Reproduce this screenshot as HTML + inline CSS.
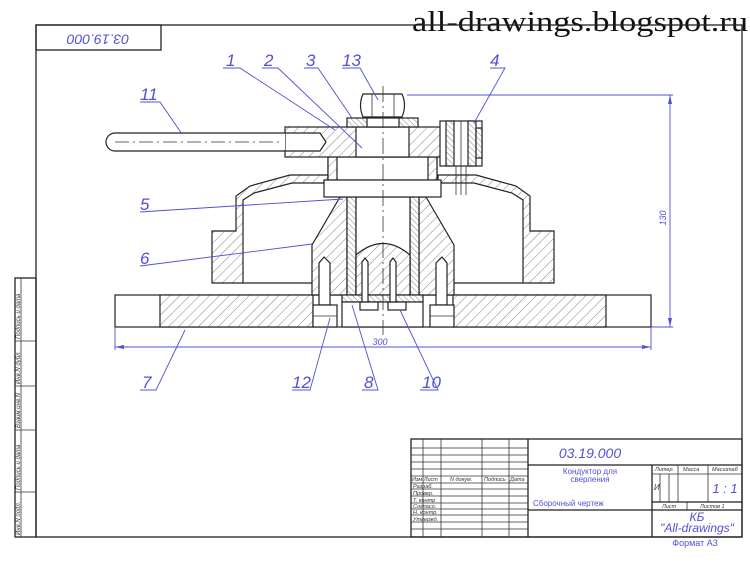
<!DOCTYPE html>
<html><head><meta charset="utf-8"><style>
html,body{margin:0;padding:0;background:#fff;width:750px;height:562px;overflow:hidden}
svg{display:block}
.b{fill:none;stroke:#222;stroke-width:1.3}
.t{fill:none;stroke:#333;stroke-width:.8}
.h{fill:url(#hp);stroke:#222;stroke-width:1.2}
.h2{fill:url(#hp2);stroke:#222;stroke-width:1.2}
.w{fill:#fff;stroke:#222;stroke-width:1.2}
.bl{stroke:#5050d8;stroke-width:.9;fill:none}
.lb{font-family:"Liberation Sans",sans-serif;font-style:italic;fill:#5050d8}
.sm{font-family:"Liberation Sans",sans-serif;font-style:italic;fill:#333}
</style></head><body>
<svg width="750" height="562" viewBox="0 0 750 562">
<defs>
<pattern id="hp" width="7" height="7" patternUnits="userSpaceOnUse" patternTransform="rotate(45)"><rect width="7" height="7" fill="#fff"/><line x1="0" y1="0" x2="0" y2="7" stroke="#666" stroke-width=".8"/></pattern>
<pattern id="hp2" width="4" height="4" patternUnits="userSpaceOnUse" patternTransform="rotate(-45)"><rect width="4" height="4" fill="#fff"/><line x1="0" y1="0" x2="0" y2="4" stroke="#666" stroke-width=".8"/></pattern>
</defs>
<text x="412" y="31" font-family="Liberation Serif,serif" font-size="29" fill="#111" textLength="336" lengthAdjust="spacingAndGlyphs">all-drawings.blogspot.ru</text>
<!-- frame -->
<rect x="36" y="25" width="706" height="512" class="b"/>
<rect x="36" y="25" width="125" height="25" class="b"/>
<text x="98" y="38" transform="rotate(180 98 38)" text-anchor="middle" dominant-baseline="middle" class="lb" style="font-size:14px">03.19.000</text>
<!-- left strip -->
<rect x="15" y="278" width="21" height="259" class="b"/>
<line x1="21" y1="278" x2="21" y2="537" class="t"/>
<g class="t"><line x1="15" y1="341" x2="36" y2="341"/><line x1="15" y1="386" x2="36" y2="386"/><line x1="15" y1="430" x2="36" y2="430"/><line x1="15" y1="492" x2="36" y2="492"/></g>
<g class="sm" style="font-size:6px">
<text transform="translate(20,339) rotate(-90)">Подпись и дата</text>
<text transform="translate(20,384) rotate(-90)">Инв.N дубл.</text>
<text transform="translate(20,428) rotate(-90)">Взаим.инв.N</text>
<text transform="translate(20,490) rotate(-90)">Подпись и дата</text>
<text transform="translate(20,535) rotate(-90)">Инв.N подл.</text>
</g>
<!-- title block -->
<g class="b"><rect x="411" y="439" width="331" height="98"/>
<line x1="528" y1="439" x2="528" y2="537"/><line x1="652" y1="465" x2="652" y2="537"/>
<line x1="528" y1="465" x2="742" y2="465"/><line x1="528" y1="510" x2="742" y2="510"/>
<line x1="652" y1="502" x2="742" y2="502"/></g>
<g class="t">
<line x1="423" y1="439" x2="423" y2="537"/><line x1="441" y1="439" x2="441" y2="537"/><line x1="482" y1="439" x2="482" y2="537"/><line x1="509" y1="439" x2="509" y2="537"/>
<line x1="411" y1="448" x2="528" y2="448"/><line x1="411" y1="455" x2="528" y2="455"/><line x1="411" y1="462" x2="528" y2="462"/><line x1="411" y1="469" x2="528" y2="469"/><line x1="411" y1="476" x2="528" y2="476"/><line x1="411" y1="483" x2="528" y2="483"/><line x1="411" y1="489" x2="528" y2="489"/><line x1="411" y1="496" x2="528" y2="496"/><line x1="411" y1="503" x2="528" y2="503"/><line x1="411" y1="509" x2="528" y2="509"/><line x1="411" y1="515" x2="528" y2="515"/><line x1="411" y1="522" x2="528" y2="522"/><line x1="411" y1="529" x2="528" y2="529"/>
<line x1="652" y1="474" x2="742" y2="474"/><line x1="678" y1="465" x2="678" y2="502"/><line x1="708" y1="465" x2="708" y2="502"/><line x1="660" y1="474" x2="660" y2="502"/><line x1="669" y1="474" x2="669" y2="502"/><line x1="687" y1="502" x2="687" y2="510"/>
</g>
<g class="sm" style="font-size:5.5px"><text x="412" y="481">Изм Лист</text><text x="450" y="481">N докум.</text><text x="484" y="481">Подпись</text><text x="510" y="481">Дата</text>
<text x="413" y="488">Разраб.</text><text x="413" y="495">Провер.</text><text x="413" y="502">Т. контр</text><text x="413" y="508">Согласо.</text><text x="413" y="514">Н. контр.</text><text x="413" y="521">Утвержд.</text>
<text x="655" y="471">Литер.</text><text x="683" y="471">Масса</text><text x="712" y="471">Масштаб</text><text x="662" y="508">Лист</text><text x="700" y="508">Листов 1</text><text x="654" y="490" style="font-size:8px">И</text></g>
<text x="590" y="458" text-anchor="middle" class="lb" style="font-size:14px">03.19.000</text>
<text x="590" y="474" text-anchor="middle" class="lb" style="font-size:8px;font-style:normal">Кондуктор для</text>
<text x="590" y="482" text-anchor="middle" class="lb" style="font-size:8px;font-style:normal">сверления</text>
<text x="533" y="506" class="lb" style="font-size:8px;font-style:normal">Сборочный чертеж</text>
<text x="725" y="493" text-anchor="middle" class="lb" style="font-size:13px">1 : 1</text>
<text x="697" y="521" text-anchor="middle" class="lb" style="font-size:12px">КБ</text>
<text x="697" y="532" text-anchor="middle" class="lb" style="font-size:12px">"All-drawings"</text>
<text x="695" y="546" text-anchor="middle" class="lb" style="font-size:9px;font-style:normal">Формат А3</text>
<!-- base plate -->
<rect x="115" y="295" width="536" height="32" class="w"/>
<rect x="160" y="295" width="153" height="32" class="h"/>
<rect x="453" y="295" width="153" height="32" class="h"/>
<!-- cover -->
<path d="M212,283 V231 H236 V196 L250,186 L290,175 H328 V183 H292 L254,193 L243,200 V283 Z" class="h"/>
<path d="M554,283 V231 H530 V196 L516,186 L476,175 H438 V183 H474 L512,193 L523,200 V283 Z" class="h"/>
<line x1="243" y1="283" x2="523" y2="283" class="b"/>
<!-- cone 6 -->
<path d="M340,197 L312,245 V295 H347 V197 Z" class="h"/>
<path d="M426,197 L454,245 V295 H419 V197 Z" class="h"/>
<rect x="347" y="197" width="9" height="98" class="h2"/>
<rect x="410" y="197" width="9" height="98" class="h2"/>
<rect x="356" y="197" width="54" height="98" class="w"/>
<path d="M356,255 Q383,232 410,255 V295 H356 Z" class="h"/>
<!-- spacer + flange -->
<rect x="328" y="157" width="109" height="23" class="w"/>
<rect x="328" y="157" width="9" height="23" class="h"/>
<rect x="428" y="157" width="9" height="23" class="h"/>
<rect x="324" y="180" width="117" height="17" class="w"/>
<!-- arm -->
<rect x="285" y="127" width="158" height="30" class="h"/>
<rect x="356" y="127" width="53" height="30" class="w"/>
<path d="M285,133 H320 L326,142 L320,151 H285 Z" class="w"/>
<!-- handle -->
<path d="M285,133 H115 A9,9 0 0 0 115,151 H285" class="w"/>
<line x1="115" y1="142" x2="280" y2="142" class="t" stroke-dasharray="14,4,2,4"/>
<!-- bushing 4 -->
<rect x="440" y="121" width="42" height="45" class="w"/>
<rect x="446" y="121" width="8" height="45" class="h2"/>
<rect x="468" y="121" width="8" height="45" class="h2"/>
<rect x="476" y="128" width="6" height="30" class="h2"/>
<line x1="461" y1="121" x2="461" y2="195" class="t"/><line x1="456" y1="166" x2="456" y2="195" class="t"/><line x1="466" y1="166" x2="466" y2="195" class="t"/>
<!-- washer, nut -->
<rect x="347" y="118" width="71" height="9" class="h2"/>
<rect x="367" y="118" width="32" height="9" class="w"/>
<path d="M363,94 H402 Q407,105 402,117 H363 Q358,105 363,94 Z" class="w"/>
<line x1="372" y1="94" x2="372" y2="117" class="t"/><line x1="394" y1="94" x2="394" y2="117" class="t"/>
<!-- plate 8 and pins 10 -->
<rect x="342" y="295" width="81" height="7" class="h2"/>
<rect x="342" y="302" width="81" height="25" class="w"/>
<rect x="360" y="302" width="18" height="8" class="w"/><rect x="388" y="302" width="18" height="8" class="w"/>
<path d="M362,302 V262 L365,258 L368,262 V302 Z M390,302 V262 L393,258 L396,262 V302 Z" class="w"/>
<!-- pins 12 -->
<path d="M319,305 V263 L324,257 L330,263 V305 Z" class="w"/>
<rect x="313" y="305" width="24" height="22" class="w"/><line x1="313" y1="316" x2="337" y2="316" class="t"/>
<path d="M436,305 V263 L442,257 L447,263 V305 Z" class="w"/>
<rect x="430" y="305" width="24" height="22" class="w"/><line x1="430" y1="316" x2="454" y2="316" class="t"/>
<!-- center line -->
<line x1="383" y1="86" x2="383" y2="335" class="t" stroke-dasharray="16,4,2,4"/>
<!-- dimensions -->
<line x1="407" y1="95" x2="673" y2="95" class="bl"/>
<line x1="651" y1="327" x2="673" y2="327" class="bl"/>
<line x1="670" y1="95" x2="670" y2="327" class="bl"/>
<path d="M670,95 l-2,9 h4 Z M670,327 l-2,-9 h4 Z" fill="#5050d8"/>
<text x="0" y="0" transform="translate(666,218) rotate(-90)" class="lb" style="font-size:9px" text-anchor="middle">130</text>
<line x1="115" y1="327" x2="115" y2="350" class="bl"/><line x1="651" y1="327" x2="651" y2="350" class="bl"/>
<line x1="115" y1="347" x2="651" y2="347" class="bl"/>
<path d="M115,347 l9,-2 v4 Z M651,347 l-9,-2 v4 Z" fill="#5050d8"/>
<text x="380" y="345" class="lb" style="font-size:9px" text-anchor="middle">300</text>
<!-- leaders -->
<g class="bl">
<path d="M223,68 H240 L335,130"/><path d="M262,68 H278 L362,148"/><path d="M304,68 H318 L352,118"/><path d="M342,68 H360 L378,100"/>
<path d="M490,68 H505 L474,123"/><path d="M140,102 H160 L182,134"/>
<path d="M140,212 L343,199"/><path d="M140,266 L312,244"/>
<path d="M140,390 H156 L185,330"/><path d="M292,390 H310 L330,318"/><path d="M362,390 H378 L352,305"/><path d="M420,390 H438 L400,310"/>
</g>
<g class="lb" style="font-size:17px">
<text x="226" y="66">1</text><text x="264" y="66">2</text><text x="306" y="66">3</text><text x="342" y="66">13</text><text x="490" y="66">4</text>
<text x="140" y="100">11</text><text x="140" y="210">5</text><text x="140" y="264">6</text>
<text x="142" y="388">7</text><text x="292" y="388">12</text><text x="364" y="388">8</text><text x="422" y="388">10</text>
</g>
</svg>
</body></html>
